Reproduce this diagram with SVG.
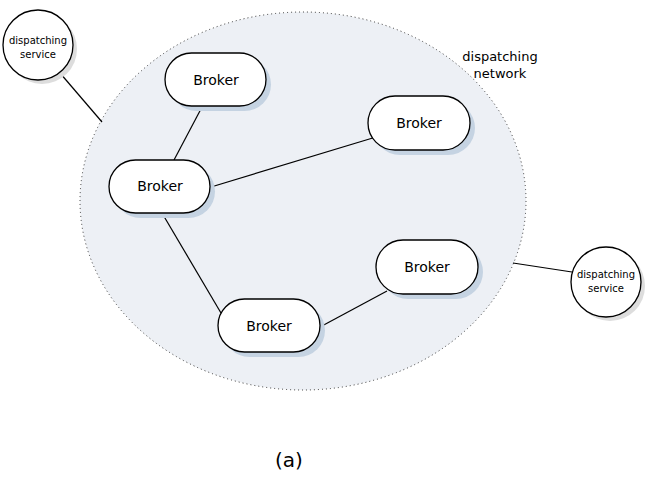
<svg xmlns="http://www.w3.org/2000/svg" width="649" height="477" viewBox="0 0 649 477">
<style>
.pill{fill:#fff;stroke:#000;stroke-width:1.3}
.shadow{fill:#c5d3e2}
.lbl{font-family:"DejaVu Sans",sans-serif;font-size:14px;text-anchor:middle;fill:#000}
.small{font-family:"DejaVu Sans",sans-serif;font-size:10px;text-anchor:middle;fill:#000}
.conn{stroke:#000;stroke-width:1.2;fill:none}
</style>
<rect width="649" height="477" fill="#fff"/>
<g id="network">
<ellipse cx="303" cy="201" rx="223" ry="189" fill="#edf0f5" stroke="#333" stroke-width="1" stroke-dasharray="1 3"/>
<text x="500" y="61" font-family="DejaVu Sans,sans-serif" font-size="13" text-anchor="middle">dispatching</text>
<text x="500" y="78" font-family="DejaVu Sans,sans-serif" font-size="13" text-anchor="middle">network</text>
</g>
<g id="connectors">
<line class="conn" x1="60" y1="73" x2="102" y2="122"/>
<line class="conn" x1="513" y1="263" x2="572" y2="272"/>
<line class="conn" x1="202" y1="107" x2="174" y2="160"/>
<line class="conn" x1="211" y1="187" x2="376" y2="137"/>
<line class="conn" x1="162" y1="213" x2="221" y2="313"/>
<line class="conn" x1="320" y1="327" x2="387" y2="291"/>
</g>
<g id="svc1">
<circle cx="42" cy="49" r="35" fill="#ddd"/>
<circle cx="38" cy="45" r="35" fill="#fff" stroke="#000" stroke-width="1.3"/>
<text class="small" x="38" y="44">dispatching</text>
<text class="small" x="38" y="58">service</text>
</g>
<g id="svc2">
<circle cx="610" cy="286" r="35" fill="#ddd"/>
<circle cx="606" cy="282" r="35" fill="#fff" stroke="#000" stroke-width="1.3"/>
<text class="small" x="606" y="278">dispatching</text>
<text class="small" x="606" y="292">service</text>
</g>
<g id="broker1">
<rect class="shadow" x="170" y="58" width="101" height="53" rx="26.5"/>
<rect class="pill" x="165" y="53" width="101" height="53" rx="26.5"/>
<text class="lbl" x="216" y="85">Broker</text>
</g>
<g id="broker2">
<rect class="shadow" x="114" y="165" width="101" height="53" rx="26.5"/>
<rect class="pill" x="109" y="160" width="101" height="53" rx="26.5"/>
<text class="lbl" x="160" y="191">Broker</text>
</g>
<g id="broker3">
<rect class="shadow" x="373" y="101" width="102" height="54" rx="27"/>
<rect class="pill" x="368" y="96" width="102" height="54" rx="27"/>
<text class="lbl" x="419" y="128">Broker</text>
</g>
<g id="broker4">
<rect class="shadow" x="381" y="245" width="102" height="54" rx="27"/>
<rect class="pill" x="376" y="240" width="102" height="54" rx="27"/>
<text class="lbl" x="427" y="272">Broker</text>
</g>
<g id="broker5">
<rect class="shadow" x="223" y="304" width="102" height="53" rx="26.5"/>
<rect class="pill" x="218" y="299" width="102" height="53" rx="26.5"/>
<text class="lbl" x="269" y="331">Broker</text>
</g>
<text x="289" y="467" font-family="DejaVu Sans,sans-serif" font-size="20" text-anchor="middle">(a)</text>
</svg>
